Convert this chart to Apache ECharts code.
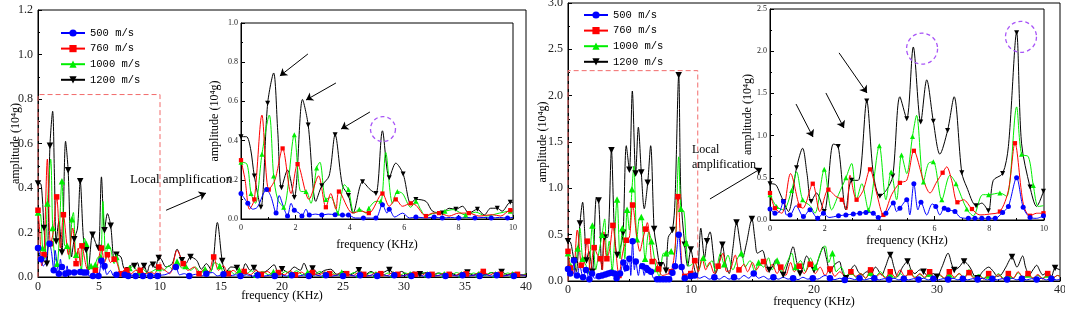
<!DOCTYPE html>
<html><head><meta charset="utf-8">
<script src="https://cdn.jsdelivr.net/npm/echarts@6/dist/echarts.min.js"></script>
<style>html,body{margin:0;padding:0;background:#fff}#c{width:1065px;height:310px}</style>
</head><body><div id="c"></div>
<script>
// ---------- DATA (x = frequency KHz, y = amplitude 10^4 g, third value 1 = marker drawn) ----------
const SERIES_NAMES = ['500 m/s', '760 m/s', '1000 m/s', '1200 m/s'];

// Left figure, 0-10 KHz (shown in inset and in main plot)
const L1200 = [[0,0.42,1],[0.2,0.42],[0.35,0.36],[0.49,0.22,1],[0.73,0.06,1],[0.98,0.59,1],[1.2,0.745],[1.35,0.45],[1.49,0.16,1],[1.71,0.25],[1.96,0.11,1],[2.26,0.61],[2.47,0.48,1],[2.75,0.09],[2.97,0.17,1],[3.24,0.22],[3.46,0.43,1],[3.73,0.17],[3.95,0.12,1],[4.12,0.03],[4.47,0.19,1],[4.75,0.15],[4.96,0.13,1],[5.2,0.45],[5.45,0.21,1],[5.69,0.285],[5.96,0.23,1],[6.24,0.08],[6.43,0.10,1],[6.8,0.09],[7.04,0.04],[7.4,0.03,1],[7.65,0.055],[7.9,0.05,1],[8.14,0.065],[8.38,0.03],[8.69,0.05,1],[8.94,0.02],[9.18,0.055],[9.42,0.055,1],[9.6,0.04],[9.9,0.085,1],[10,0.085]];
const L760 = [[0,0.30,1],[0.15,0.2],[0.31,0.05],[0.49,0.10,1],[0.77,0.53],[1.02,0.15,1],[1.25,0.2],[1.53,0.36,1],[1.84,0.13],[2.08,0.28,1],[2.5,0.10],[2.85,0.22],[3.12,0.06,1],[3.3,0.13],[3.49,0.05],[3.6,0.14,1],[4.1,0.03],[4.4,0.04],[4.7,0.03,1],[5.2,0.13,1],[5.45,0.065],[5.69,0.10,1],[5.94,0.065],[6.24,0.08,1],[6.43,0.07],[6.8,0.015,1],[7.04,0.03],[7.28,0.03,1],[7.65,0.015],[8.0,0.03],[8.38,0.03,1],[8.75,0.015],[9.24,0.022],[9.55,0.015],[9.9,0.045,1],[10,0.045]];
const L1000 = [[0,0.29,1],[0.22,0.28],[0.37,0.13,1],[0.53,0.08],[0.77,0.33,1],[1.04,0.53],[1.2,0.22,1],[1.35,0.10],[1.57,0.06,1],[1.96,0.43,1],[2.2,0.14],[2.39,0.14,1],[2.57,0.08],[2.78,0.26,1],[2.9,0.29],[3.12,0.10,1],[3.3,0.11],[3.46,0.07],[3.55,0.03,1],[3.8,0.175],[3.95,0.15,1],[4.16,0.03],[4.35,0.05,1],[4.6,0.03],[4.7,0.055,1],[4.96,0.09],[5.14,0.09,1],[5.32,0.34],[5.57,0.08],[5.75,0.14,1],[5.94,0.13],[6.24,0.06],[6.43,0.09,1],[6.6,0.05],[6.8,0.015],[7.1,0.03],[7.5,0.04,1],[7.8,0.048],[8.26,0.02,1],[8.63,0.035],[9.0,0.015],[9.5,0.03],[9.9,0.04,1],[10,0.04]];
const L500 = [[0,0.13,1],[0.1,0.11],[0.25,0.08,1],[0.43,0.05],[0.6,0.06],[0.94,0.15,1],[1.1,0.115],[1.29,0.03,1],[1.4,0.12],[1.59,0.05],[1.71,0.015,1],[1.84,0.08],[1.96,0.045,1],[2.14,0.03],[2.24,0.015,1],[2.39,0.05],[2.51,0.02,1],[2.75,0.025],[2.97,0.02,1],[3.2,0.025],[3.46,0.022,1],[3.73,0.02,1],[3.95,0.02,1],[4.2,0.005],[4.5,0.005,1],[4.75,0.005],[4.96,0.005,1],[5.2,0.073,1],[5.37,0.03],[5.45,0.05,1],[5.65,0.01],[5.94,0.03],[6.2,0.005],[6.43,0.01,1],[6.8,0.005],[7.1,0.01,1],[7.4,0.005,1],[7.7,0.008],[8.0,0.005,1],[8.3,0.008],[8.6,0.005,1],[8.9,0.008],[9.2,0.005,1],[9.5,0.008],[9.8,0.005,1],[10,0.008]];
// Left figure, 10-40 KHz (main plot only)
const L1200x = [[10.5,0.045],[11.0,0.06],[11.4,0.125],[11.8,0.075,1],[12.1,0.06],[12.5,0.09,1],[13.0,0.075],[13.4,0.035],[13.8,0.06],[14.2,0.03],[14.7,0.245],[15.1,0.072,1],[15.4,0.02],[15.8,0.045],[16.3,0.04,1],[16.7,0.02],[17.0,0.06],[17.4,0.03],[17.7,0.04,1],[18.2,0.015],[18.8,0.03],[19.35,0.055],[19.7,0.015],[20.0,0.035,1],[20.5,0.02],[21.0,0.045],[21.5,0.03],[21.8,0.062],[22.2,0.02],[22.5,0.038,1],[23.0,0.015],[23.5,0.03],[24.0,0.035],[24.5,0.012],[25.0,0.025],[25.6,0.01],[26.3,0.03,1],[26.8,0.01],[27.3,0.025],[27.8,0.008],[28.3,0.02],[28.8,0.032,1],[29.3,0.01],[29.8,0.025],[30.3,0.01],[30.8,0.022],[31.3,0.012,1],[31.8,0.02],[32.3,0.008],[32.8,0.018],[33.3,0.01],[33.8,0.02],[34.3,0.008],[34.8,0.018],[35.2,0.02,1],[35.7,0.008],[36.2,0.018],[36.7,0.01],[37.2,0.02],[37.7,0.008],[38.0,0.022,1],[38.5,0.01],[39.0,0.018],[39.5,0.008],[40,0.012]];
const L760x = [[10.4,0.03],[10.8,0.015],[11.4,0.12],[11.9,0.06,1],[12.3,0.03],[12.8,0.045],[13.2,0.015,1],[13.7,0.04],[14.0,0.02],[14.4,0.09,1],[14.8,0.03],[15.2,0.05],[15.6,0.015,1],[16.0,0.03],[16.5,0.01],[16.9,0.025,1],[17.4,0.01],[17.9,0.03],[18.3,0.012,1],[18.8,0.025],[19.3,0.008],[19.7,0.02,1],[20.2,0.01],[20.7,0.028],[21.1,0.01,1],[21.6,0.022],[22.0,0.008],[22.5,0.02,1],[23.0,0.008],[23.5,0.022],[23.9,0.015,1],[24.4,0.008],[24.9,0.02],[25.3,0.015,1],[25.8,0.006],[26.3,0.02],[26.7,0.012,1],[27.2,0.006],[27.7,0.02],[28.1,0.015,1],[28.6,0.006],[29.1,0.022],[29.5,0.012,1],[30.0,0.006],[30.5,0.018],[30.9,0.012,1],[31.4,0.006],[31.9,0.02],[32.3,0.012,1],[32.8,0.006],[33.3,0.018],[33.7,0.012,1],[34.2,0.006],[34.7,0.02],[35.1,0.014,1],[35.6,0.006],[36.1,0.02],[36.5,0.025,1],[37.0,0.008],[37.5,0.02],[37.9,0.012,1],[38.4,0.006],[38.9,0.02],[39.3,0.012,1],[39.8,0.008],[40,0.01]];
const L1000x = [[10.3,0.03],[10.7,0.05],[11.0,0.035],[11.4,0.07,1],[11.8,0.04],[12.1,0.05,1],[12.5,0.03],[12.9,0.045],[13.3,0.02],[13.7,0.035,1],[14.1,0.02],[14.5,0.065],[14.9,0.05,1],[15.3,0.015],[15.7,0.03],[16.1,0.012],[16.5,0.03,1],[17.0,0.012],[17.5,0.028],[17.9,0.01,1],[18.4,0.025],[18.9,0.01],[19.3,0.022,1],[19.8,0.01],[20.3,0.025],[20.7,0.012,1],[21.2,0.028],[21.7,0.01],[22.1,0.02,1],[22.6,0.008],[23.1,0.025],[23.5,0.012,1],[24.0,0.022],[24.5,0.008],[24.9,0.02,1],[25.4,0.008],[25.9,0.02],[26.3,0.012,1],[26.8,0.006],[27.3,0.02],[27.7,0.012,1],[28.2,0.006],[28.7,0.018],[29.1,0.012,1],[29.6,0.006],[30.1,0.018],[30.5,0.012,1],[31.0,0.006],[31.5,0.02],[31.9,0.012,1],[32.4,0.006],[32.9,0.018],[33.3,0.012,1],[33.8,0.006],[34.3,0.02],[34.7,0.012,1],[35.2,0.006],[35.7,0.018],[36.1,0.012,1],[36.6,0.006],[37.1,0.02],[37.5,0.012,1],[38.0,0.006],[38.5,0.018],[38.9,0.012,1],[39.4,0.006],[40,0.015]];
const L500x = [[10.4,0.01],[10.8,0.02],[11.3,0.045,1],[11.6,0.01],[12.0,0.015],[12.4,0.005,1],[12.9,0.012],[13.4,0.005],[13.8,0.015,1],[14.3,0.02],[14.7,0.005],[15.2,0.012,1],[15.7,0.005],[16.2,0.01],[16.6,0.005,1],[17.1,0.01],[17.6,0.004],[18.0,0.008,1],[18.5,0.004],[19.0,0.008],[19.4,0.005,1],[19.9,0.01],[20.4,0.004],[20.8,0.008,1],[21.3,0.004],[21.8,0.009],[22.2,0.005,1],[22.7,0.01],[23.2,0.004],[23.6,0.008,1],[24.1,0.004],[24.6,0.009],[25.0,0.005,1],[25.5,0.01],[26.0,0.004],[26.4,0.008,1],[26.9,0.004],[27.4,0.009],[27.8,0.005,1],[28.3,0.01],[28.8,0.004],[29.2,0.008,1],[29.7,0.004],[30.2,0.009],[30.6,0.005,1],[31.1,0.01],[31.6,0.004],[32.0,0.008,1],[32.5,0.004],[33.0,0.009],[33.4,0.005,1],[33.9,0.01],[34.4,0.004],[34.8,0.008,1],[35.3,0.004],[35.8,0.009],[36.2,0.005,1],[36.7,0.01],[37.2,0.004],[37.6,0.008,1],[38.1,0.004],[38.6,0.009],[39.0,0.005,1],[39.5,0.01],[40,0.005]];

// Right figure, 0-10 KHz
const R1200 = [[0,0.43,1],[0.2,0.42],[0.36,0.32],[0.49,0.22,1],[0.67,0.10],[0.97,0.62,1],[1.19,0.85],[1.35,0.55],[1.5,0.22,1],[1.7,0.32],[1.98,0.10,1],[2.31,0.90],[2.49,0.87,1],[2.77,0.12],[2.98,0.47,1],[3.22,0.47],[3.53,1.41,1],[3.77,0.55],[4.01,0.28,1],[4.26,0.36],[4.48,0.52,1],[4.74,1.46],[4.99,1.20,1],[5.23,2.05],[5.5,1.16,1],[5.72,1.66],[5.96,1.17,1],[6.2,0.78],[6.48,1.06,1],[6.72,1.46],[7.0,0.56,1],[7.18,0.39],[7.52,0.17,1],[7.73,0.20],[7.97,0.11,1],[8.15,0.47],[8.49,0.55,1],[8.7,0.87],[9.0,2.22,1],[9.18,0.91],[9.49,0.39,1],[9.73,0.16],[9.98,0.34,1]];
const R760 = [[0,0.32,1],[0.18,0.14,1],[0.43,0.08],[0.75,0.55],[1.07,0.17,1],[1.2,0.14],[1.56,0.43,1],[1.82,0.10],[2.13,0.36,1],[2.4,0.28],[2.62,0.24,1],[2.8,0.12],[2.92,0.53],[3.16,0.24,1],[3.4,0.35],[3.65,0.60,1],[3.89,0.32],[4.14,0.06,1],[4.44,0.30],[4.74,0.44,1],[4.99,0.47],[5.25,0.82,1],[5.6,0.47],[5.84,0.32],[6.08,0.45],[6.3,0.56,1],[6.45,0.63],[6.63,0.47],[6.84,0.21,1],[7.06,0.24],[7.37,0.13,1],[7.66,0.06],[8.0,0.07],[8.39,0.10,1],[8.7,0.35],[8.94,0.91,1],[9.25,0.18],[9.49,0.05,1],[9.73,0.08],[9.98,0.08,1]];
const R1000 = [[0,0.30,1],[0.24,0.16,1],[0.49,0.12],[0.79,0.35,1],[0.97,0.57],[1.19,0.24,1],[1.46,0.17],[1.64,0.08],[1.98,0.60,1],[2.25,0.12],[2.5,0.3],[2.77,0.50,1],[2.98,0.67],[3.16,0.24],[3.35,0.43],[3.59,0.12,1],[3.99,0.88,1],[4.23,0.24],[4.42,0.57,1],[4.62,0.24],[4.8,0.77,1],[4.99,0.55],[5.2,0.99,1],[5.35,1.24],[5.6,0.45,1],[5.78,0.67],[5.96,0.69,1],[6.27,0.24,1],[6.57,0.53],[6.79,0.43,1],[7.18,0.13,1],[7.42,0.05],[7.76,0.30],[7.98,0.30,1],[8.39,0.32,1],[8.64,0.28],[9.0,1.34],[9.18,0.78,1],[9.43,0.75],[9.61,0.41,1],[9.79,0.16],[9.98,0.17]];
const R500 = [[0,0.13,1],[0.18,0.08,1],[0.35,0.1],[0.49,0.22,1],[0.6,0.06],[0.73,0.06,1],[0.95,0.17],[1.22,0.04,1],[1.46,0.12,1],[1.74,0.02,1],[1.95,0.08,1],[2.15,0.03],[2.5,0.05,1],[2.77,0.06,1],[3.04,0.07,1],[3.28,0.08,1],[3.5,0.09,1],[3.77,0.08,1],[3.95,0.03,1],[4.23,0.08,1],[4.5,0.2,1],[4.62,0.1],[4.74,0.14,1],[4.99,0.24,1],[5.1,0.06],[5.25,0.43,1],[5.4,0.12],[5.51,0.21,1],[5.72,0.06],[5.92,0.19],[6.05,0.16,1],[6.2,0.06],[6.36,0.14,1],[6.5,0.12,1],[6.75,0.10,1],[6.95,0.03],[7.24,0.02,1],[7.48,0.02,1],[7.73,0.02,1],[7.97,0.02,1],[8.22,0.02,1],[8.49,0.09,1],[8.7,0.16,1],[9.0,0.50,1],[9.24,0.15,1],[9.49,0.03,1],[9.73,0.02],[9.98,0.05,1]];
// Right figure, 10-40 KHz
const R1200x = [[10.3,0.12],[10.5,0.05],[10.8,0.57],[11.1,0.25],[11.3,0.43,1],[11.55,0.53],[11.8,0.3],[12.0,0.08],[12.3,0.2],[12.55,0.39,1],[12.8,0.2],[13.1,0.08],[13.4,0.35],[13.7,0.63,1],[14.0,0.4],[14.2,0.25],[14.5,0.4],[14.95,0.67,1],[15.2,0.45],[15.4,0.3],[15.8,0.33],[16.1,0.2],[16.35,0.12,1],[16.6,0.15],[16.9,0.23],[17.2,0.12],[17.5,0.065,1],[17.9,0.2],[18.3,0.37],[18.6,0.2],[18.86,0.08,1],[19.1,0.15],[19.4,0.27],[19.7,0.2],[20.0,0.12,1],[20.4,0.25],[20.75,0.37],[21.0,0.25],[21.3,0.11,1],[21.7,0.18],[22.06,0.21],[22.3,0.1],[22.6,0.03,1],[22.9,0.1],[23.3,0.17],[23.6,0.1],[23.9,0.065],[24.3,0.1],[24.6,0.08,1],[25.0,0.15],[25.5,0.065],[25.8,0.15],[26.2,0.28,1],[26.5,0.15],[26.8,0.047],[27.2,0.15],[27.6,0.21,1],[27.9,0.12],[28.2,0.08],[28.6,0.12],[28.9,0.1,1],[29.3,0.05],[29.7,0.08],[30.0,0.047,1],[30.4,0.15],[30.9,0.30],[31.2,0.18],[31.4,0.12,1],[31.8,0.15],[32.2,0.21,1],[32.5,0.18],[32.8,0.12],[33.0,0.06],[33.3,0.03,1],[33.7,0.1],[34.2,0.15],[34.6,0.1],[34.9,0.05],[35.2,0.065],[35.6,0.15],[36.1,0.26,1],[36.5,0.15],[36.96,0.27],[37.2,0.15],[37.5,0.065],[37.8,0.12],[38.1,0.17],[38.4,0.1],[38.6,0.065],[39.0,0.1],[39.3,0.05],[39.6,0.14,1],[40,0.12]];
const R760x = [[10.3,0.22,1],[10.6,0.1],[10.9,0.25],[11.2,0.12],[11.5,0.2],[11.9,0.08],[12.2,0.16,1],[12.6,0.3],[12.9,0.1],[13.2,0.12],[13.6,0.28],[13.9,0.12,1],[14.3,0.18],[14.6,0.1],[15.0,0.2],[15.3,0.12],[15.7,0.2],[15.9,0.21,1],[16.2,0.1],[16.6,0.18],[17.0,0.08],[17.3,0.15,1],[17.7,0.06],[18.1,0.2],[18.4,0.1],[18.8,0.16,1],[19.2,0.08],[19.7,0.18,1],[20.1,0.08],[20.5,0.15],[20.9,0.06],[21.3,0.13,1],[21.7,0.05],[22.1,0.1],[22.6,0.04],[23.0,0.1,1],[23.4,0.05],[23.8,0.08],[24.2,0.03],[24.6,0.12,1],[25.0,0.04],[25.4,0.08],[25.8,0.03],[26.2,0.1,1],[26.6,0.04],[27.0,0.12],[27.4,0.05],[27.8,0.09,1],[28.2,0.03],[28.6,0.08],[29.0,0.04],[29.4,0.1,1],[29.8,0.03],[30.2,0.07],[30.6,0.03],[31.0,0.1,1],[31.4,0.04],[31.8,0.08],[32.2,0.03],[32.6,0.09,1],[33.0,0.03],[33.4,0.06],[33.8,0.02],[34.2,0.08,1],[34.6,0.03],[35.0,0.07],[35.4,0.02],[35.8,0.08,1],[36.2,0.03],[36.6,0.1],[37.0,0.04],[37.4,0.08,1],[37.8,0.03],[38.2,0.07],[38.6,0.02],[39.0,0.08,1],[39.4,0.03],[39.8,0.06],[40,0.05]];
const R1000x = [[10.3,0.2],[10.6,0.12],[11.0,0.25,1],[11.3,0.15],[11.7,0.22],[12.0,0.1],[12.4,0.3],[12.7,0.18,1],[13.0,0.28],[13.4,0.12],[13.8,0.25],[14.1,0.3,1],[14.4,0.15],[14.8,0.22],[15.2,0.1],[15.5,0.2,1],[15.9,0.15],[16.3,0.25],[16.6,0.12],[17.0,0.22,1],[17.4,0.1],[17.8,0.2],[18.2,0.3],[18.5,0.15,1],[18.9,0.22],[19.3,0.1],[19.7,0.25],[20.1,0.15,1],[20.5,0.3],[20.9,0.38],[21.2,0.2],[21.5,0.3,1],[21.8,0.1],[22.2,0.15],[22.6,0.05],[23.0,0.1,1],[23.4,0.04],[23.8,0.08],[24.2,0.03],[24.6,0.09,1],[25.0,0.05],[25.4,0.1],[25.8,0.04],[26.2,0.07,1],[26.6,0.03],[27.0,0.08],[27.4,0.04],[27.8,0.1,1],[28.2,0.04],[28.6,0.07],[29.0,0.03],[29.4,0.08,1],[29.8,0.03],[30.2,0.06],[30.6,0.03],[31.0,0.07,1],[31.4,0.03],[31.8,0.08],[32.2,0.04],[32.6,0.1,1],[33.0,0.04],[33.4,0.07],[33.8,0.03],[34.2,0.06,1],[34.6,0.03],[35.0,0.08],[35.4,0.03],[35.8,0.06,1],[36.2,0.03],[36.6,0.09],[37.0,0.04],[37.4,0.07,1],[37.8,0.03],[38.2,0.06],[38.6,0.03],[39.0,0.07,1],[39.4,0.03],[39.8,0.06],[40,0.05]];
const R500x = [[10.3,0.06,1],[10.7,0.03],[11.1,0.05],[11.5,0.02],[11.9,0.04,1],[12.3,0.02],[12.7,0.05],[13.1,0.02],[13.5,0.04,1],[13.9,0.02],[14.3,0.06],[14.7,0.03],[15.1,0.08,1],[15.5,0.03],[15.9,0.05],[16.3,0.02],[16.7,0.04,1],[17.1,0.02],[17.5,0.04],[17.9,0.02],[18.3,0.03,1],[18.7,0.015],[19.1,0.04],[19.5,0.02],[19.9,0.03,1],[20.3,0.02],[20.9,0.06],[21.3,0.03,1],[21.7,0.015],[22.1,0.03],[22.5,0.012,1],[22.9,0.03],[23.3,0.015],[23.7,0.03,1],[24.1,0.012],[24.5,0.025],[24.9,0.03,1],[25.3,0.012],[25.7,0.025],[26.1,0.015,1],[26.5,0.03],[26.9,0.012],[27.3,0.025,1],[27.7,0.012],[28.1,0.025],[28.5,0.015,1],[28.9,0.03],[29.3,0.012],[29.7,0.025,1],[30.1,0.012],[30.5,0.025],[30.9,0.015,1],[31.3,0.03],[31.7,0.012],[32.1,0.025,1],[32.5,0.012],[32.9,0.025],[33.3,0.015,1],[33.7,0.03],[34.1,0.012],[34.5,0.025,1],[34.9,0.012],[35.3,0.025],[35.7,0.015,1],[36.1,0.03],[36.5,0.012],[36.9,0.025,1],[37.3,0.012],[37.7,0.025],[38.1,0.015,1],[38.5,0.03],[38.9,0.012],[39.3,0.025,1],[39.7,0.012],[40,0.02]];

// Annotation anchors (data coordinates)
const LEFT_RECT = [[0,0],[0,0.82],[10,0.82],[10,0]];
const RIGHT_RECT = [[0,0],[0,2.27],[10.55,2.27],[10.55,0]];
const LEFT_MAIN_ARROW = [[10.5,0.30],[13.77,0.377]];
const RIGHT_MAIN_ARROW = [[11.54,0.885],[15.77,1.22]];
const LEFT_INSET_ARROWS = [[[2.46,0.842],[1.43,0.73]],[[3.49,0.694],[2.39,0.607]],[[4.74,0.546],[3.68,0.459]]];
const LEFT_INSET_CIRCLES = [[5.22,0.459]];
const RIGHT_INSET_ARROWS = [[[0.95,1.374],[1.57,0.983]],[[2.04,1.505],[2.70,1.09]],[[2.52,1.98],[3.54,1.505]]];
const RIGHT_INSET_CIRCLES = [[5.55,2.03],[9.16,2.17]];
const LEFT_NOTE = [7.54, 0.436];
const RIGHT_NOTE1 = [10.08, 1.42];
const RIGHT_NOTE2 = [10.08, 1.25];

// ---------- STYLE ----------
const STYLE = {
  '500 m/s':  {color:'#0000ff', symbol:'circle',   rot:0,   k:1.0},
  '760 m/s':  {color:'#ff0000', symbol:'rect',     rot:0,   k:0.85},
  '1000 m/s': {color:'#00ee00', symbol:'triangle', rot:0,   k:1.0},
  '1200 m/s': {color:'#000000', symbol:'triangle', rot:180, k:1.0}
};
const SERIF = 'Liberation Serif';

function ls(name, data, gi, size) {
  const st = STYLE[name];
  return {
    type:'line', name, xAxisIndex:gi, yAxisIndex:gi, data,
    smooth:0.3, symbol:st.symbol, symbolRotate:st.rot, showSymbol:true, showAllSymbol:true,
    symbolSize:(v)=> (v[2] ? size*st.k : 0),
    lineStyle:{color:st.color, width:1}, itemStyle:{color:st.color},
    emphasis:{disabled:true}, animation:false, z:3
  };
}

function xAx(gi, max, interval, labelSize, name, nameGap, margin) {
  return {gridIndex:gi, type:'value', min:0, max, interval,
    axisLine:{lineStyle:{color:'#000', width:1}},
    axisTick:{inside:true, length:4, lineStyle:{color:'#000'}},
    minorTick:{show:true, splitNumber:2, length:2, lineStyle:{color:'#000'}},
    splitLine:{show:false},
    axisLabel:{fontFamily:SERIF, fontSize:labelSize, color:'#222', margin},
    name, nameLocation:'middle', nameGap, nameMoveOverlap:false,
    nameTextStyle:{fontFamily:SERIF, fontSize:12, color:'#000'}};
}
function yAx(gi, max, interval, labelSize, nameGap, margin) {
  return {gridIndex:gi, type:'value', min:0, max, interval,
    axisLine:{show:true, lineStyle:{color:'#000', width:1}},
    axisTick:{show:true, inside:true, length:4, lineStyle:{color:'#000'}},
    minorTick:{show:true, splitNumber:2, length:2, lineStyle:{color:'#000'}},
    splitLine:{show:false},
    axisLabel:{fontFamily:SERIF, fontSize:labelSize, color:'#222', margin, formatter:(v)=>v.toFixed(1)},
    name:'amplitude (10⁴g)', nameLocation:'middle', nameGap, nameMoveOverlap:false,
    nameTextStyle:{fontFamily:SERIF, fontSize:12, color:'#000'}};
}

const arrowML = (pairs) => ({silent:true, symbol:['none','arrow'], symbolSize:7, animation:false,
  lineStyle:{color:'#000', type:'solid', width:1}, label:{show:false}, emphasis:{disabled:true},
  data: pairs.map(p => [{coord:p[0]},{coord:p[1]}])});
const circleMP = (pts, size) => ({silent:true, symbol:'circle', symbolSize:size, animation:false,
  itemStyle:{color:'rgba(0,0,0,0)', borderColor:'#a855f7', borderWidth:1.3, borderType:[4,3]},
  label:{show:false}, data: pts.map(p => ({coord:p}))});

const series = [];
// grid 0: left main ; grid 1: left inset ; grid 2: right main ; grid 3: right inset
const panels = [
  {gi:0, d:{'1200 m/s':L1200.concat(L1200x),'1000 m/s':L1000.concat(L1000x),'760 m/s':L760.concat(L760x),'500 m/s':L500.concat(L500x)}, size:6.5},
  {gi:1, d:{'1200 m/s':L1200,'1000 m/s':L1000,'760 m/s':L760,'500 m/s':L500}, size:5},
  {gi:2, d:{'1200 m/s':R1200.concat(R1200x),'1000 m/s':R1000.concat(R1000x),'760 m/s':R760.concat(R760x),'500 m/s':R500.concat(R500x)}, size:6.5},
  {gi:3, d:{'1200 m/s':R1200,'1000 m/s':R1000,'760 m/s':R760,'500 m/s':R500}, size:5}
];
panels.forEach(p => {
  ['1200 m/s','1000 m/s','760 m/s','500 m/s'].forEach(n => series.push(ls(n, p.d[n], p.gi, p.size)));
});
// dashed red "local region" rectangles + arrows
series.push({type:'line', xAxisIndex:0, yAxisIndex:0, data:LEFT_RECT, symbol:'none', silent:true, animation:false,
  lineStyle:{color:'#f26b6b', width:1, type:[5,3]}, z:2, markLine:arrowML([LEFT_MAIN_ARROW])});
series.push({type:'line', xAxisIndex:2, yAxisIndex:2, data:RIGHT_RECT, symbol:'none', silent:true, animation:false,
  lineStyle:{color:'#f26b6b', width:1, type:[5,3]}, z:2, markLine:arrowML([RIGHT_MAIN_ARROW])});
// inset annotations
series.push({type:'line', xAxisIndex:1, yAxisIndex:1, data:[], silent:true, animation:false, z:4,
  markLine:arrowML(LEFT_INSET_ARROWS), markPoint:circleMP(LEFT_INSET_CIRCLES, 25)});
series.push({type:'line', xAxisIndex:3, yAxisIndex:3, data:[], silent:true, animation:false, z:4,
  markLine:arrowML(RIGHT_INSET_ARROWS), markPoint:circleMP(RIGHT_INSET_CIRCLES, 31)});

const legendBase = {orient:'vertical', padding:0, itemWidth:24, itemHeight:9, itemGap:4.6, selectedMode:false,
  data:SERIES_NAMES, textStyle:{fontFamily:'Liberation Mono', fontSize:10.5, color:'#000'}};

const gridBase = {show:true, borderColor:'#000', borderWidth:1, containLabel:false, outerBoundsMode:'none'};
const option = {
  animation:false,
  backgroundColor:'#fff',
  legend:[Object.assign({left:60, top:27.5}, legendBase), Object.assign({left:583, top:9.5}, legendBase)],
  grid:[
    Object.assign({left:38, top:10, width:488, height:267, backgroundColor:'transparent'}, gridBase),
    Object.assign({left:241, top:23, width:272, height:196, backgroundColor:'#fff'}, gridBase),
    Object.assign({left:568, top:3, width:492, height:278, backgroundColor:'transparent'}, gridBase),
    Object.assign({left:770, top:9, width:274, height:211, backgroundColor:'#fff'}, gridBase)
  ],
  xAxis:[
    xAx(0, 40, 5, 12, 'frequency (KHz)', 13, 4),
    xAx(1, 10, 2, 8, 'frequency (KHz)', 20, 5),
    xAx(2, 40, 10, 12, 'frequency (KHz)', 15, 3),
    xAx(3, 10, 2, 8, 'frequency (KHz)', 15, 5)
  ],
  yAxis:[
    yAx(0, 1.2, 0.2, 12, 16, 5),
    yAx(1, 1.0, 0.2, 8, 20, 3),
    yAx(2, 3.0, 0.5, 12, 19, 5),
    yAx(3, 2.5, 0.5, 8, 16, 3)
  ],
  series
};

const chart = echarts.init(document.getElementById('c'), null, {renderer:'canvas'});
chart.setOption(option);

const toPx = (gi, p) => chart.convertToPixel({gridIndex:gi}, p);
const t = (gi, p, text, size) => {
  const q = toPx(gi, p);
  return {type:'text', x:q[0], y:q[1], z:10, silent:true,
    style:{text, fontFamily:SERIF, fontSize:size, fill:'#000', align:'left', verticalAlign:'middle'}};
};
chart.setOption({graphic:[
  t(0, LEFT_NOTE, 'Local amplification', 13),
  t(2, RIGHT_NOTE1, 'Local', 12),
  t(2, RIGHT_NOTE2, 'amplification', 12)
]});
</script></body></html>
